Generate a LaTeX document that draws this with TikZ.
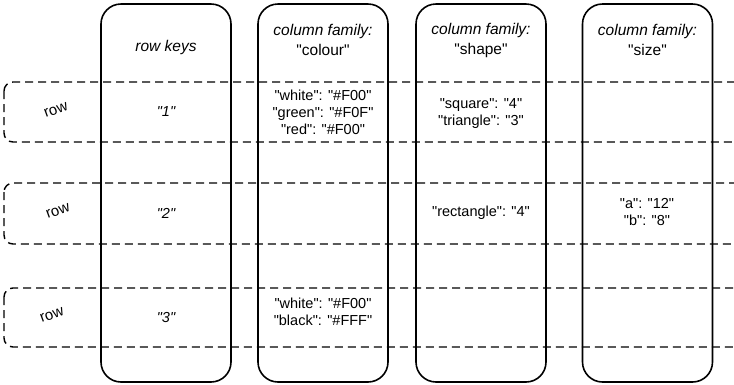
\documentclass[tikz,border=0pt]{standalone}
\usepackage{fontspec}
\setmainfont{Liberation Sans}[Ligatures=TeXOff]
\begin{document}
\begin{tikzpicture}[x=1pt,y=-1pt,
  colbox/.style={draw, line width=1.6pt, rounded corners=20pt, minimum width=130pt, minimum height=378pt, inner sep=0pt},
  rowline/.style={line width=1.4pt, dash pattern=on 8pt off 5pt, rounded corners=9pt},
  lbl/.style={font=\fontsize{14.5}{17}\selectfont, align=center, inner sep=0pt},
  hd/.style={font=\fontsize{15.5}{20}\selectfont\itshape, align=center, inner sep=0pt},
  rowlbl/.style={font=\fontsize{15}{17}\selectfont, rotate=20, inner sep=0pt}]
\useasboundingbox (0,0) rectangle (734,384);
\clip (0,0) rectangle (734,384);
% columns
\node[colbox] (ck) at (166,193) {};
\node[colbox] (cc) at (323,193) {};
\node[colbox] (cs) at (481,193) {};
\node[colbox] (cz) at (647.5,193) {};
% rows
\draw[rowline] (4,82) rectangle (749,142);
\draw[rowline] (4,183) rectangle (749,244);
\draw[rowline] (4,288) rectangle (749,347);
% headers
\node[hd] (hk) at (166,47) {row keys};
\node[hd] (hc) at (323,40) {column family:\\\upshape "colour"};
\node[hd] (hs) at (481,40) {column family:\\\upshape "shape"};
\node[hd] (hz) at (647.5,40) {column family:\\\upshape "size"};
% row labels
\node[rowlbl] (l1) at (56,110) {row};
\node[rowlbl] (l2) at (58,211) {row};
\node[rowlbl] (l3) at (52,315) {row};
% row 1
\node[lbl] (k1) at (166,112) {\itshape"1"};
\node[lbl] (c1) at (323,112) {"white": "\#F00"\\"green": "\#F0F"\\"red": "\#F00"};
\node[lbl] (s1) at (481,114) {"square": "4"\\"triangle": "3"};
% row 2
\node[lbl] (k2) at (166,213) {\itshape"2"};
\node[lbl] (s2) at (481,213) {"rectangle": "4"};
\node[lbl] (z2) at (647,212) {"a": "12"\\"b": "8"};
% row 3
\node[lbl] (k3) at (166,318) {\itshape"3"};
\node[lbl] (c3) at (323,312) {"white": "\#F00"\\"black": "\#FFF"};
\end{tikzpicture}
\end{document}
